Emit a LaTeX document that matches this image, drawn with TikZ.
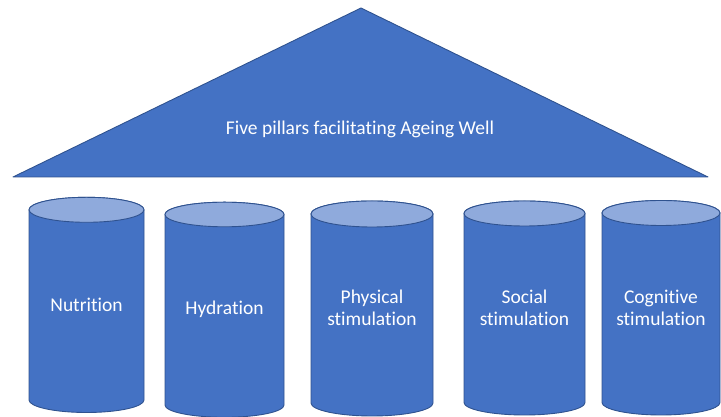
\documentclass[tikz,border=0pt]{standalone}
\usepackage{fontspec}
\setmainfont{Carlito}[Ligatures={NoCommon,NoRare}]
\definecolor{pillarfill}{HTML}{4472C4}
\definecolor{pillartop}{HTML}{8FAADC}
\definecolor{pillarline}{HTML}{2F528F}
\begin{document}
\begin{tikzpicture}[x=1pt,y=1pt,
  shape line/.style={draw=pillarline, line width=0.9pt, line join=round},
  body/.style={shape line, fill=pillarfill},
  lid/.style={shape line, fill=pillartop},
  label/.style={text=white, align=center, inner sep=0pt,
    font=\fontsize{19.5}{22.5}\selectfont}]
\useasboundingbox (0,0) rectangle (721,417);

% roof
\draw[body] (361,409) -- (708,240) -- (13,240) -- cycle;
\node[label] (roof) at (360,288) {Five pillars facilitating Ageing Well};

% pillars: name / centre x / x radius / top y / bottom y / y radius / text / text y
\foreach \n/\cx/\rx/\yt/\yb/\ry/\txt/\ty in {
  nutrition/86.5/57.5/207.2/17/12.5/{Nutrition}/112,
  hydration/224.5/59.5/202.5/12/12.3/{Hydration}/108,
  physical/372/61/203/14/13/{Physical\\stimulation}/109,
  social/524.5/60.5/203.5/14.5/12.5/{Social\\stimulation}/109,
  cognitive/661/59/204/14.5/12.5/{Cognitive\\stimulation}/109}{
  \draw[body] (\cx-\rx,\yt) -- (\cx-\rx,\yb)
     arc[start angle=180, end angle=360, x radius=\rx, y radius=\ry]
     -- (\cx+\rx,\yt)
     arc[start angle=0, end angle=180, x radius=\rx, y radius=\ry] -- cycle;
  \draw[lid] (\cx,\yt) ellipse[x radius=\rx, y radius=\ry];
  \node[label] (\n) at (\cx,\ty) {\txt};
}
\end{tikzpicture}
\end{document}
